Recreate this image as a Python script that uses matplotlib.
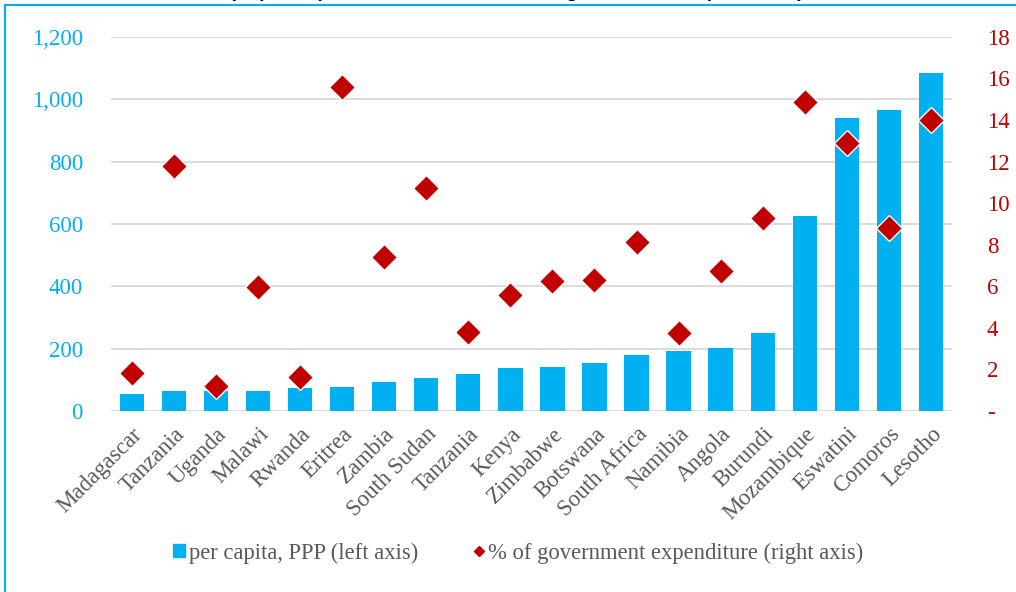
import matplotlib.pyplot as plt
from matplotlib.lines import Line2D
from matplotlib.patches import Patch
from matplotlib.ticker import FuncFormatter

plt.rcParams['font.family'] = ['Liberation Serif', 'DejaVu Serif']

countries = ["Madagascar", "Tanzania", "Uganda", "Malawi", "Rwanda", "Eritrea", "Zambia",
             "South Sudan", "Tanzania", "Kenya", "Zimbabwe", "Botswana", "South Africa",
             "Namibia", "Angola", "Burundi", "Mozambique", "Eswatini", "Comoros", "Lesotho"]
per_capita_ppp = [55, 64, 64, 64, 73, 77, 94, 107, 120, 137, 141, 155, 181, 193, 202, 250,
                  625, 939, 966, 1083]
pct_gov_exp = [1.85, 11.8, 1.2, 5.95, 1.65, 15.6, 7.4, 10.75, 3.8, 5.6, 6.25, 6.3, 8.15,
               3.75, 6.75, 9.3, 14.85, 12.9, 8.8, 14.0]

blue = "#00B0F0"
red = "#C00000"
grey = "#595959"

fig = plt.figure(figsize=(10.16, 5.92), dpi=100)
ax = fig.add_axes([0.109, 0.3057, 0.828, 0.632])
ax2 = ax.twinx()

x = list(range(len(countries)))
ax.bar(x, per_capita_ppp, width=0.58, color=blue, zorder=2)
ax.set_axisbelow(True)
ax.yaxis.grid(True, color="#D9D9D9", lw=1.3)
ax.set_ylim(0, 1200)
ax.set_yticks(range(0, 1201, 200))
ax.yaxis.set_major_formatter(FuncFormatter(lambda v, p: f"{int(v):,}"))
ax.set_xlim(-0.5, len(countries) - 0.5)
ax.set_xticks(x)
ax.set_xticklabels(countries, rotation=45, ha="right", va="top", rotation_mode="anchor",
                   color=grey, fontsize=16.5)
ax.tick_params(axis="x", length=0, pad=9)
ax.tick_params(axis="y", length=0, pad=20, labelcolor=blue, labelsize=16.5)

ax2.plot(x, pct_gov_exp, linestyle="none", marker="D", ms=13.5, color=red,
         markeredgecolor="white", markeredgewidth=1, zorder=3)
ax2.set_ylim(0, 18)
ax2.set_yticks(range(0, 19, 2))
ax2.yaxis.set_major_formatter(FuncFormatter(lambda v, p: "-" if v == 0 else f"{int(v)}"))
ax2.tick_params(axis="y", length=0, pad=25, labelcolor=red, labelsize=16.5)

for a in (ax, ax2):
    for s in a.spines.values():
        s.set_visible(False)

handles = [Patch(color=blue),
           Line2D([], [], linestyle="none", marker="D", ms=5, color=red)]
fig.legend(handles, ["per capita, PPP (left axis)", "% of government expenditure (right axis)"],
           loc="center", bbox_to_anchor=(0.51, 0.066), ncol=2, frameon=False, fontsize=16.3,
           labelcolor=grey, handlelength=0.55, handleheight=0.55, handletextpad=0.15,
           columnspacing=2.4)

# outer frame and cut-off title
fig.add_artist(Line2D([5 / 1016, 1], [1 - 5 / 592, 1 - 5 / 592], color=blue, lw=1.5))
fig.add_artist(Line2D([5 / 1016, 5 / 1016], [0, 1 - 5 / 592], color=blue, lw=1.5))
fig.text(0.51, 1 + 3 / 592, "(in per capita PPP and as % of total government expenditure)",
         ha="center", va="baseline", fontsize=14.3, fontweight="bold", style="italic",
         family=["Liberation Sans", "DejaVu Sans"])

fig.savefig("out.png", dpi=100)
